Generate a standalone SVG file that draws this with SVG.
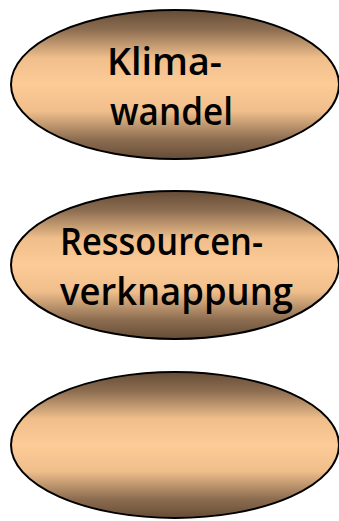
<svg xmlns="http://www.w3.org/2000/svg" width="339" height="521" viewBox="0 0 339 521">
  <defs>
    <linearGradient id="tan" x1="0" y1="0" x2="0" y2="1">
      <stop offset="0" stop-color="#664c36"/>
      <stop offset="0.13" stop-color="#8c6d51"/>
      <stop offset="0.32" stop-color="#efbe8b"/>
      <stop offset="0.5" stop-color="#fdcb96"/>
      <stop offset="0.68" stop-color="#efbe8b"/>
      <stop offset="0.87" stop-color="#8c6d51"/>
      <stop offset="1" stop-color="#664c36"/>
    </linearGradient>
  </defs>
  <style>
    .node ellipse { fill: url(#tan); stroke: #000; stroke-width: 2; }
    .label { font-family: "Open Sans", "DejaVu Sans", sans-serif; font-size: 38px; font-weight: 600; fill: #000; }
  </style>
  <rect width="339" height="521" fill="#fff"/>
  <g id="connectors"/>
  <g id="node-klimawandel" class="node">
    <ellipse cx="175" cy="84.5" rx="164" ry="74.5"/>
    <text class="label" x="107" y="75" textLength="115" lengthAdjust="spacingAndGlyphs">Klima-</text>
    <text class="label" x="110" y="125" textLength="123" lengthAdjust="spacingAndGlyphs">wandel</text>
  </g>
  <g id="node-ressourcenverknappung" class="node">
    <ellipse cx="175" cy="265" rx="164" ry="74"/>
    <text class="label" x="60" y="255" textLength="203" lengthAdjust="spacingAndGlyphs">Ressourcen-</text>
    <text class="label" x="60" y="305" textLength="233" lengthAdjust="spacingAndGlyphs">verknappung</text>
  </g>
  <g id="node-empty" class="node">
    <ellipse cx="175" cy="445" rx="164" ry="73"/>
  </g>
</svg>
